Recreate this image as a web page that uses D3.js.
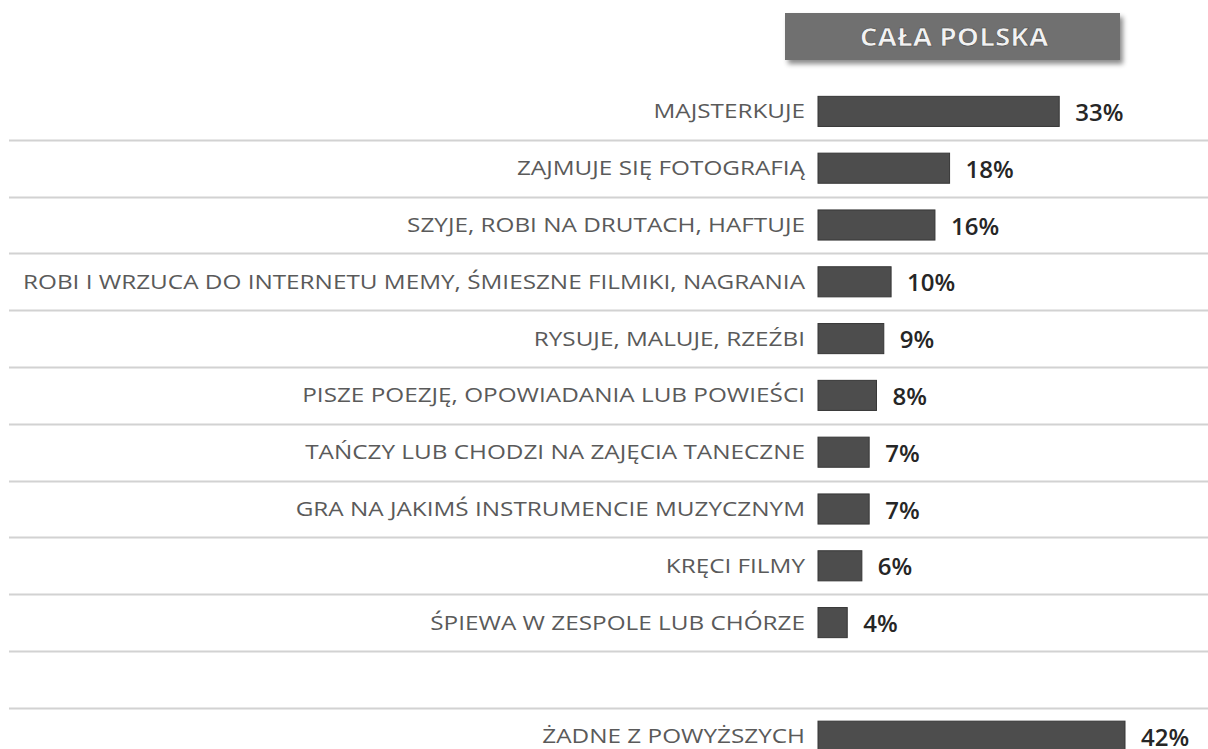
<!DOCTYPE html>
<html>
<head>
  <meta charset="utf-8">
  <script src="https://d3js.org/d3.v7.min.js"></script>
  <style>
    body { margin:0; background:#fff; }
    text { font-family: "Open Sans", sans-serif; }
    .cat { fill:#5a5a5a; font-size:20px; }
    .val { fill:#262626; font-size:24px; font-weight:600; }
    .grid line { stroke:#d2d2d2; stroke-width:2; }
  </style>
</head>
<body>
  <script>
    var categories = ["MAJSTERKUJE", "ZAJMUJE SIĘ FOTOGRAFIĄ", "SZYJE, ROBI NA DRUTACH, HAFTUJE",
        "ROBI I WRZUCA DO INTERNETU MEMY, ŚMIESZNE FILMIKI, NAGRANIA", "RYSUJE, MALUJE, RZEŹBI",
        "PISZE POEZJĘ, OPOWIADANIA LUB POWIEŚCI", "TAŃCZY LUB CHODZI NA ZAJĘCIA TANECZNE",
        "GRA NA JAKIMŚ INSTRUMENCIE MUZYCZNYM", "KRĘCI FILMY", "ŚPIEWA W ZESPOLE LUB CHÓRZE",
        "", "ŻADNE Z POWYŻSZYCH"];
    var values = [33, 18, 16, 10, 9, 8, 7, 7, 6, 4, null, 42];
    var title = "CAŁA POLSKA";

    var width = 1208, height = 749;
    var svg = d3.select("body").append("svg")
        .attr("width", width)
        .attr("height", height);

    var data = categories.map((c, i) => ({ key: "r" + i, label: c, value: values[i] }));

    var y = d3.scaleBand()
        .domain(data.map(d => d.key))
        .range([83, 83 + 56.8 * data.length])
        .paddingInner(0.47).paddingOuter(0.235);
    var x = d3.scaleLinear()
        .domain([0, 42])
        .range([818, 1125]);

    var step = y.step();
    var mid = d => y(d.key) + y.bandwidth() / 2;

    // separators between rows
    svg.append("g").attr("class", "grid")
      .selectAll("line").data(data.slice(0, data.length - 1))
      .enter().append("line")
        .attr("x1", 9).attr("x2", width)
        .attr("y1", d => Math.round(mid(d) + step / 2) + 0.5)
        .attr("y2", d => Math.round(mid(d) + step / 2) + 0.5);

    // title box
    var defs = svg.append("defs");
    var f = defs.append("filter").attr("id", "sh").attr("x", "-10%").attr("y", "-30%").attr("width", "130%").attr("height", "180%");
    f.append("feDropShadow").attr("dx", 3).attr("dy", 4).attr("stdDeviation", 2.5).attr("flood-color", "#000").attr("flood-opacity", 0.45);
    svg.append("rect")
        .attr("x", 785).attr("y", 13).attr("width", 335).attr("height", 47)
        .attr("fill", "#707070").attr("filter", "url(#sh)");
    svg.append("text")
        .attr("transform", "translate(954,37) scale(1.12,1)")
        .attr("dy", "0.35em")
        .attr("text-anchor", "middle")
        .style("font-size", "25px").style("font-weight", "700")
        .style("fill", "#f2f2f2")
        .style("stroke", "#4a4a4a").style("stroke-width", 0.6)
        .text(title);

    var rows = data.filter(d => d.value !== null);

    svg.selectAll(".bar").data(rows).enter().append("rect")
        .attr("class", "bar")
        .attr("x", x(0))
        .attr("y", d => y(d.key))
        .attr("width", d => x(d.value) - x(0))
        .attr("height", y.bandwidth())
        .attr("fill", "#4d4d4d")
        .attr("stroke", "#363636").attr("stroke-width", 1);

    svg.selectAll(".cat").data(rows).enter().append("text")
        .attr("class", "cat")
        .attr("text-anchor", "end")
        .attr("transform", d => "translate(805," + mid(d) + ") scale(1.215,1)")
        .attr("dy", "0.35em")
        .text(d => d.label);

    svg.selectAll(".val").data(rows).enter().append("text")
        .attr("class", "val")
        .attr("x", d => x(d.value) + 16)
        .attr("y", d => mid(d) + 1)
        .attr("dy", "0.36em")
        .text(d => d.value + "%");
  </script>
</body>
</html>
